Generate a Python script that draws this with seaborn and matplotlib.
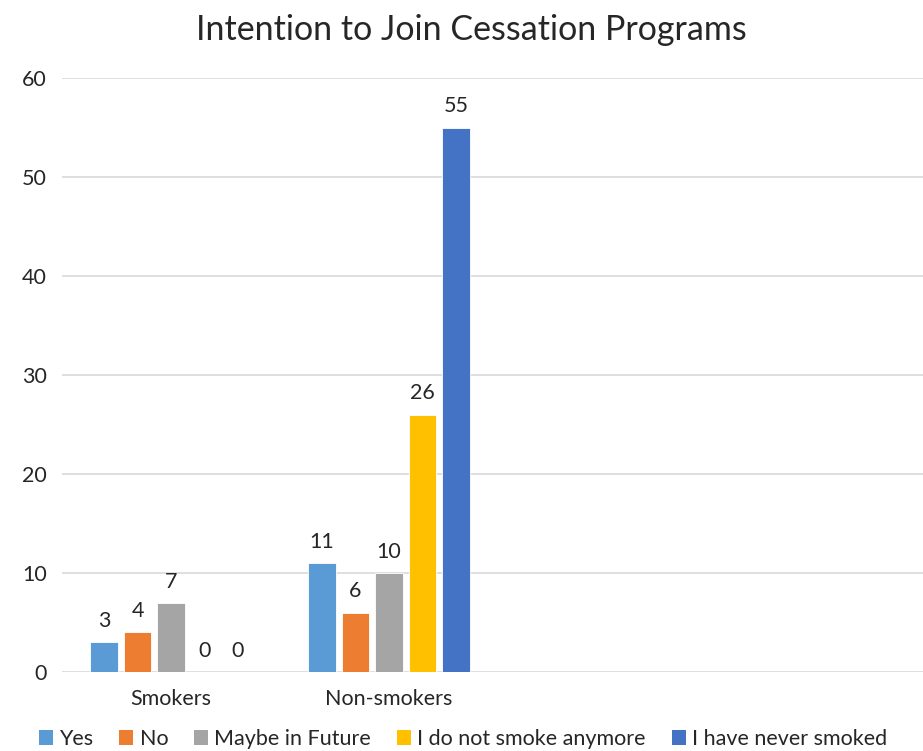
import matplotlib
matplotlib.use("Agg")
import matplotlib.pyplot as plt
from matplotlib.patches import Patch
import seaborn as sns
import pandas as pd

groups = ["Smokers", "Non-smokers"]
responses = ["Yes", "No", "Maybe in Future", "I do not smoke anymore", "I have never smoked"]
smokers = [3, 4, 7, 0, 0]
non_smokers = [11, 6, 10, 26, 55]
colors = ["#5B9BD5", "#ED7D31", "#A5A5A5", "#FFC000", "#4472C4"]
title = "Intention to Join Cessation Programs"
y_ticks = [0, 10, 20, 30, 40, 50, 60]

rows = []
for g, vals in zip(groups, [smokers, non_smokers]):
    for r, v in zip(responses, vals):
        rows.append({"group": g, "response": r, "count": v})
df = pd.DataFrame(rows)

sns.set_theme(style="white")
plt.rcParams["font.family"] = ["Lato", "DejaVu Sans"]

fig = plt.figure(figsize=(9.23, 7.51), dpi=100)
ax = fig.add_axes([62 / 923, 1 - 672 / 751, 1 - 62 / 923, (672 - 78) / 751])

sns.barplot(data=df, x="group", y="count", hue="response", order=groups,
            hue_order=responses, palette=colors, saturation=1, width=0.768, gap=0.19,
            errorbar=None, edgecolor="white", linewidth=0.6, ax=ax, legend=False)

for cont in ax.containers:
    ax.bar_label(cont, padding=8, fontsize=15.5, color="#262626")

ax.set_ylim(0, 60)
ax.set_xlim(-0.5, -0.5 + 861 / 218)
ax.set_yticks(y_ticks)
ax.yaxis.grid(True, color="#D9D9D9", linewidth=1.2)
ax.set_axisbelow(True)
for s in ax.spines.values():
    s.set_visible(False)
ax.set_xlabel("")
ax.set_ylabel("")
ax.tick_params(axis="y", length=0, pad=11, labelsize=15.5, labelcolor="#262626")
ax.tick_params(axis="x", length=0, pad=12, labelsize=15.5, labelcolor="#262626")

fig.text(471 / 923, 1 - 30 / 751, title, ha="center", va="center",
         fontsize=24.5, color="#262626")

handles = [Patch(facecolor=c, edgecolor="none", label=r) for c, r in zip(colors, responses)]
fig.legend(handles=handles, loc="center", bbox_to_anchor=(463 / 923, 1 - 739 / 751),
           ncol=5, frameon=False, fontsize=15.5, handlelength=0.65, handleheight=0.65,
           handletextpad=0.3, columnspacing=1.2, labelcolor="#262626",
           borderaxespad=0, borderpad=0)

fig.savefig("out.png", dpi=100)
